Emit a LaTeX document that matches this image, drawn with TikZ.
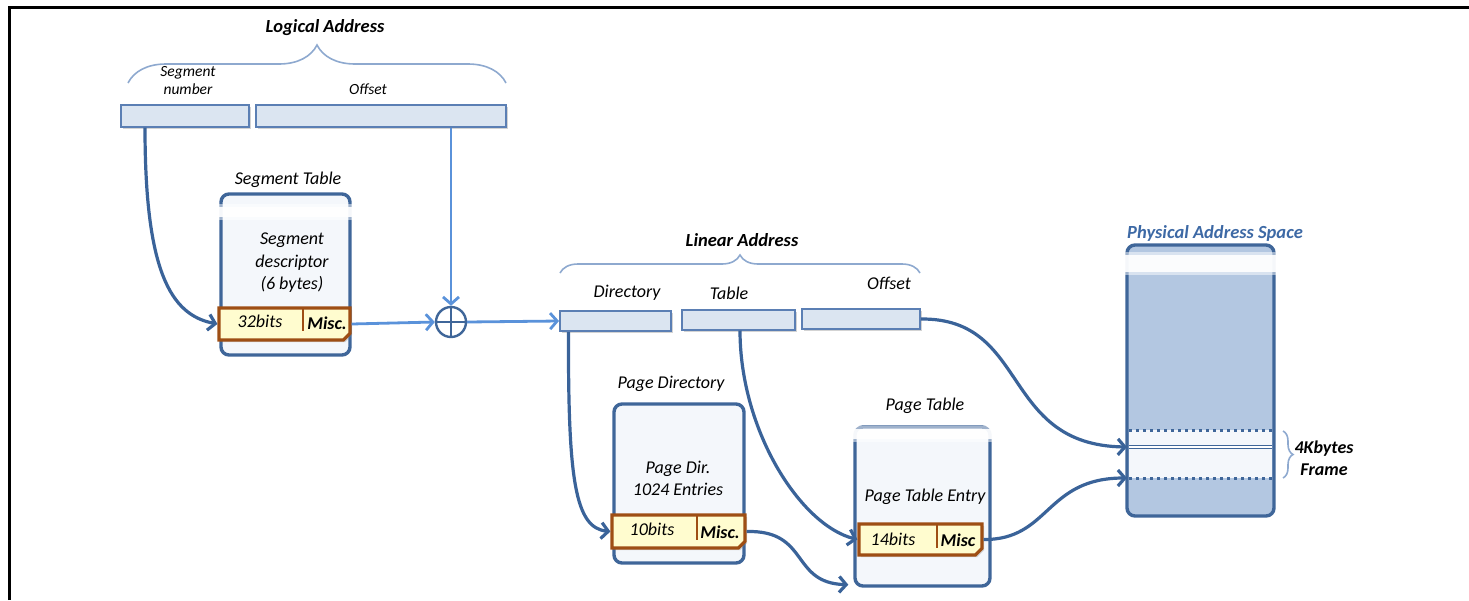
\documentclass[tikz,border=0pt]{standalone}
\usepackage{fontspec}
\setmainfont{Carlito}
\usetikzlibrary{arrows.meta,shadows,shapes.misc,decorations.pathreplacing}

\definecolor{boxline}{HTML}{3F6699}
\definecolor{boxfill}{HTML}{F4F7FB}
\definecolor{fieldline}{HTML}{5B7FB4}
\definecolor{fieldfill}{HTML}{DBE5F1}
\definecolor{entryline}{HTML}{9E4E14}
\definecolor{entryfill}{HTML}{FFFCCF}
\definecolor{darkarrow}{HTML}{3A6399}
\definecolor{lightarrow}{HTML}{5A92DA}
\definecolor{bracecol}{HTML}{8EA9CF}
\definecolor{physfill}{HTML}{B3C7E1}
\definecolor{physlabel}{HTML}{3D69A5}

\tikzset{
    field/.style={draw=fieldline, fill=fieldfill, line width=2pt, minimum height=22pt,
        drop shadow={opacity=0.35, shadow xshift=2pt, shadow yshift=-2pt}},
    tablebox/.style={draw=boxline, fill=boxfill, line width=3.4pt, rounded corners=8pt},
    entrybar/.style={draw=entryline, fill=entryfill, line width=3.2pt, chamfered rectangle,
        chamfered rectangle corners=south east, chamfered rectangle sep=4pt,
        drop shadow={opacity=0.3, shadow xshift=2pt, shadow yshift=-2pt}},
    txt/.style={font=\fontsize{18}{22.5}\selectfont\itshape, align=center, inner sep=0pt},
    smalltxt/.style={font=\fontsize{15.5}{18}\selectfont\itshape, align=center, inner sep=0pt},
    title/.style={font=\fontsize{18.5}{22}\selectfont\bfseries\itshape, inner sep=0pt},
    link/.style={draw=darkarrow, line width=3.2pt, -{Straight Barb[length=7pt,width=16pt]}},
    feed/.style={link, draw=lightarrow, line width=2.8pt},
    grouping/.style={draw=bracecol, line width=1.6pt, decorate, decoration={brace, amplitude=#1}},
    divider/.style={draw=entryline, line width=2.2pt}
}
% soft white strip across the top of a table
\newcommand{\tornband}[2]{%
    \fill[white, opacity=0.5] (#1) rectangle (#2);
    \fill[white, opacity=0.9] ([yshift=-3pt,xshift=6pt]#1) rectangle ([yshift=3pt,xshift=-6pt]#2);
}

\begin{document}
\begin{tikzpicture}[x=1pt, y=-1pt]
    \useasboundingbox (0,0) rectangle (1469,600);
    \draw[line width=3pt] (9,600) -- (9,7) -- (1469,7);

    % logical address
    \node (logtitle) [title] at (325,28) {Logical Address};
    \node (segnum) [field, minimum width=128pt] at (185,115.5) {};
    \node (segoff) [field, minimum width=250pt] at (381,115.5) {};
    \node (segnumlbl) [smalltxt] at (188,81) {Segment\\number};
    \node (segofflbl) [smalltxt] at (368,89) {Offset};
    \draw[grouping=38pt] (128,83) -- (506,83);

    % segment table
    \node (segtbl) [tablebox, minimum width=129pt, minimum height=161pt] at (285.5,274.5) {};
    \tornband{203,204}{364,220}
    \node (segtbllbl) [txt] at (288,180) {Segment Table};
    \node (segdesc) [txt] at (292,263) {Segment\\descriptor\\(6 bytes)};
    \node (segent) [entrybar, minimum width=131pt, minimum height=32pt] at (284.5,324) {};
    \draw[divider] (303,309) -- (303,331);
    \node (segbits) [txt] at (260,321) {32bits};
    \node (segmisc) [txt] at (327,323) {\bfseries Misc.};

    % adder
    \node (adder) [circle, draw=boxline, line width=2.4pt, fill=white, minimum size=30pt, inner sep=0pt,
        path picture={\draw[boxline, line width=2.4pt]
            (path picture bounding box.north) -- (path picture bounding box.south)
            (path picture bounding box.west) -- (path picture bounding box.east);}] at (451,322) {};

    % linear address
    \node (lintitle) [title] at (742,240) {Linear Address};
    \node (dir) [field, minimum width=111pt, minimum height=20pt] at (615.5,321) {};
    \node (tab) [field, minimum width=113pt, minimum height=20pt] at (738.5,319.5) {};
    \node (off) [field, minimum width=118pt, minimum height=20pt] at (861,319) {};
    \node (dirlbl) [txt] at (627,293) {Directory};
    \node (tablbl) [txt] at (729,293) {Table};
    \node (offlbl) [txt] at (889,283) {Offset};
    \draw[grouping=18pt] (560,273) -- (920,273);

    % page directory
    \node (pdtbl) [tablebox, minimum width=130pt, minimum height=159pt] at (679,483.5) {};
    \node (pdtbllbl) [txt] at (671,384) {Page Directory};
    \node (pddesc) [txt] at (678,478.5) {Page Dir.\\1024 Entries};
    \node (pdent) [entrybar, minimum width=133pt, minimum height=33pt] at (678.5,531.5) {};
    \draw[divider] (697,516) -- (697,540);
    \node (pdbits) [txt] at (652,529) {10bits};
    \node (pdmisc) [txt] at (720,532) {\bfseries Misc.};

    % page table
    \node (pttbl) [tablebox, minimum width=135pt, minimum height=159pt] at (922.5,506.5) {};
    \tornband{833,426}{1004,442}
    \node (pttbllbl) [txt] at (925,406) {Page Table};
    \node (ptdesc) [txt] at (925,497) {Page Table Entry};
    \node (ptent) [entrybar, minimum width=123pt, minimum height=31pt] at (920.5,539.5) {};
    \draw[divider] (937,525) -- (937,548);
    \node (ptbits) [txt] at (893,539) {14bits};
    \node (ptmisc) [txt] at (958,540) {\bfseries Misc};

    % physical memory
    \node (phys) [tablebox, fill=physfill, minimum width=147pt, minimum height=271pt] at (1200.5,380.5) {};
    \tornband{1116,252}{1286,275}
    \fill[boxfill] (1129,430) rectangle (1272,478);
    \draw[boxline, line width=3pt, dash pattern=on 3pt off 4pt]
        (1129,430) -- (1272,430) (1129,478) -- (1272,478);
    \draw[boxline, line width=1.2pt, double=white, double distance=2.5pt] (1129,447) -- (1272,447);
    \coordinate (framein) at (1127,447);
    \coordinate (framebase) at (1127,478);
    \node (physlbl) [title, physlabel] at (1215,233) {Physical Address Space};
    \draw[grouping=10pt] (1283,431) -- (1283,478);
    \node (framelbl) [txt] at (1324,458) {\bfseries 4Kbytes\\\bfseries Frame};

    % translation paths
    \path[link] ([xshift=-40pt]segnum.south) .. controls (145,270) and (170,315) .. (segent.west);
    \path[feed] (adder |- segoff.south) -- (adder.north);
    \path[feed] (segent.east) -- (adder.west);
    \path[feed] (adder.east) -- (dir.west);
    \path[link] ([xshift=-47pt]dir.south) .. controls (568,480) and (575,528) .. (pdent.west);
    \path[link] ([xshift=1.5pt]tab.south) .. controls (740,430) and (800,525) .. (ptent.west);
    \path[link] (pdent.east) .. controls (810,530) and (790,583) .. ([xshift=-5pt,yshift=3pt]pttbl.south west);
    \path[link] (ptent.east) .. controls (1050,540) and (1045,478) .. (framebase);
    \path[link] (off.east) .. controls (1030,318) and (1000,445) .. (framein);
\end{tikzpicture}
\end{document}
